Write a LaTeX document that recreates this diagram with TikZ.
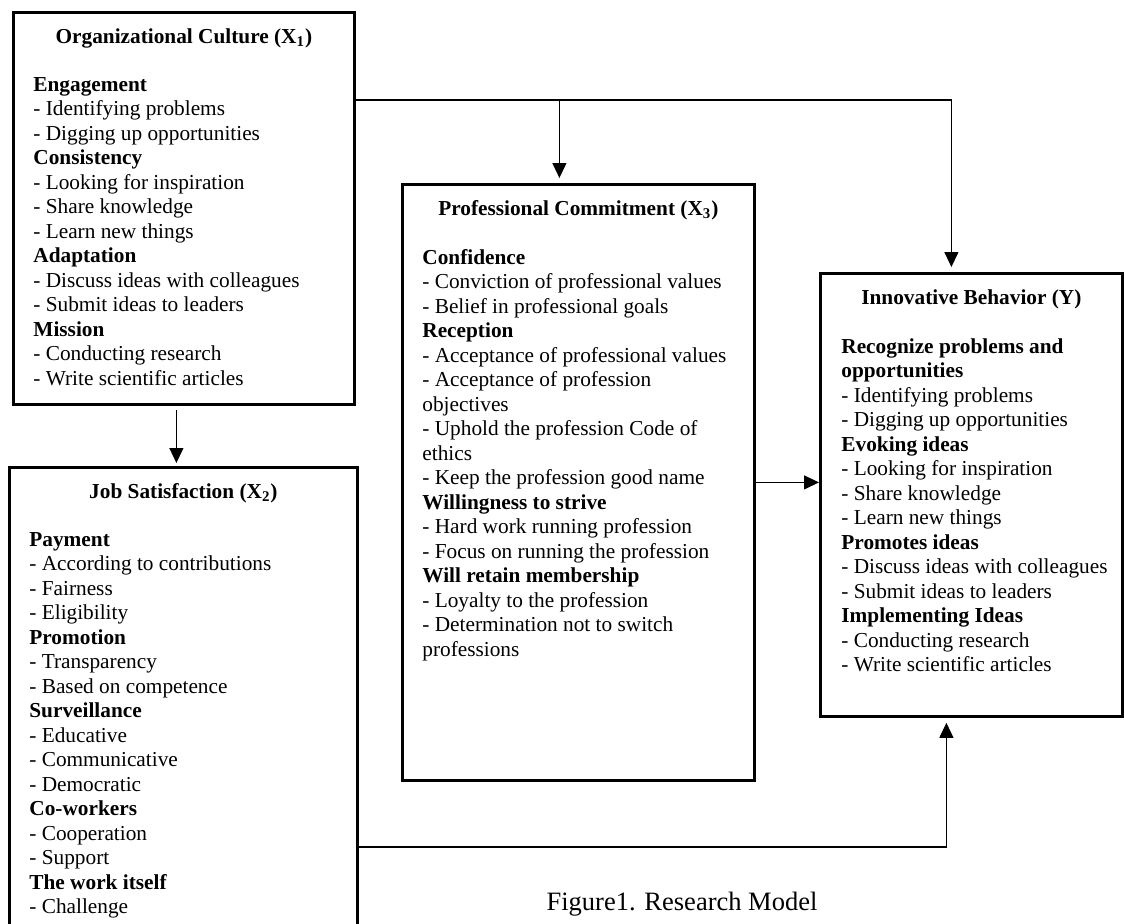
\documentclass[tikz,border=0pt]{standalone}
\usepackage{fontspec}
\setmainfont{Liberation Serif}
\usepackage{tikz}
\usetikzlibrary{arrows.meta,positioning}
\newcommand{\boxfont}{\fontsize{10.65}{12.25}\selectfont}

\begin{document}
\begin{tikzpicture}[
      x=0.5pt, y=-0.5pt,
      box/.style={draw=black, line width=1.4pt, anchor=north west, inner sep=0pt},
      head/.style={font=\boxfont\bfseries, inner sep=0pt, anchor=base},
      list/.style={font=\boxfont, align=left, inner sep=0pt},
      line/.style={draw=black, line width=0.6pt},
      arr/.style={line, -{Triangle[length=7.5pt,width=7pt]}}
    ]
      \useasboundingbox (0,0) rectangle (1124,923);
      \clip (0,0) rectangle (1124,923);

      \node[box, minimum width=170.5pt, minimum height=196pt] (oc) at (12,11) {};
      \node[head] (oc-head) at ([yshift=-16pt]oc.north) {Organizational Culture (X\textsubscript{1})};
      \node[list, below right=33pt and 10.5pt of oc.north west] (oc-list) {\textbf{Engagement}\\- Identifying problems\\- Digging up opportunities\\\textbf{Consistency}\\- Looking for inspiration\\- Share knowledge\\- Learn new things\\\textbf{Adaptation}\\- Discuss ideas with colleagues\\- Submit ideas to leaders\\\textbf{Mission}\\- Conducting research\\- Write scientific articles};

      \node[box, minimum width=174pt, minimum height=247pt] (js) at (8,466) {};
      \node[head] (js-head) at ([yshift=-16pt]js.north) {Job Satisfaction (X\textsubscript{2})};
      \node[list, below right=33pt and 10.5pt of js.north west] (js-list) {\textbf{Payment}\\- According to contributions\\- Fairness\\- Eligibility\\\textbf{Promotion}\\- Transparency\\- Based on competence\\\textbf{Surveillance}\\- Educative\\- Communicative\\- Democratic\\\textbf{Co-workers}\\- Cooperation\\- Support\\\textbf{The work itself}\\- Challenge};

      \node[box, minimum width=176pt, minimum height=298pt] (pc) at (401,183) {};
      \node[head] (pc-head) at ([yshift=-16pt]pc.north) {Professional Commitment (X\textsubscript{3})};
      \node[list, below right=33pt and 10.5pt of pc.north west] (pc-list) {\textbf{Confidence}\\- Conviction of professional values\\- Belief in professional goals\\\textbf{Reception}\\- Acceptance of professional values\\- Acceptance of profession\\objectives\\- Uphold the profession Code of\\ethics\\- Keep the profession good name\\\textbf{Willingness to strive}\\- Hard work running profession\\- Focus on running the profession\\\textbf{Will retain membership}\\- Loyalty to the profession\\- Determination not to switch\\professions};

      \node[box, minimum width=151pt, minimum height=221.5pt] (ib) at (819,272) {};
      \node[head] (ib-head) at ([yshift=-16pt]ib.north) {Innovative Behavior (Y)};
      \node[list, below right=33pt and 11pt of ib.north west] (ib-list) {\textbf{Recognize problems and}\\\textbf{opportunities}\\- Identifying problems\\- Digging up opportunities\\\textbf{Evoking ideas}\\- Looking for inspiration\\- Share knowledge\\- Learn new things\\\textbf{Promotes ideas}\\- Discuss ideas with colleagues\\- Submit ideas to leaders\\\textbf{Implementing Ideas}\\- Conducting research\\- Write scientific articles};

      \node[font=\fontsize{13.25}{15}\selectfont, inner sep=0pt, anchor=base] (caption) at (682,910) {Figure1. Research Model};

      \coordinate (oc-out) at ([yshift=-44.5pt]oc.north east);
      \coordinate (js-out) at ([yshift=-190.5pt]js.north east);
      \draw[arr, shorten >=2.5pt] (oc-out) -| ([xshift=-10pt]ib.north);
      \draw[arr, shorten >=2.5pt] ([xshift=-9.5pt]pc.north |- oc-out) -- ([xshift=-9.5pt]pc.north);
      \draw[arr, shorten <=2pt, shorten >=1.5pt] ([xshift=-3.75pt]oc.south) -- ([xshift=-3.75pt]oc.south |- js.north);
      \draw[arr] (pc.east) -- (pc.east -| ib.west);
      \draw[arr, shorten >=2.5pt] (js-out) -| ([xshift=-12.5pt]ib.south);
    \end{tikzpicture}
\end{document}
